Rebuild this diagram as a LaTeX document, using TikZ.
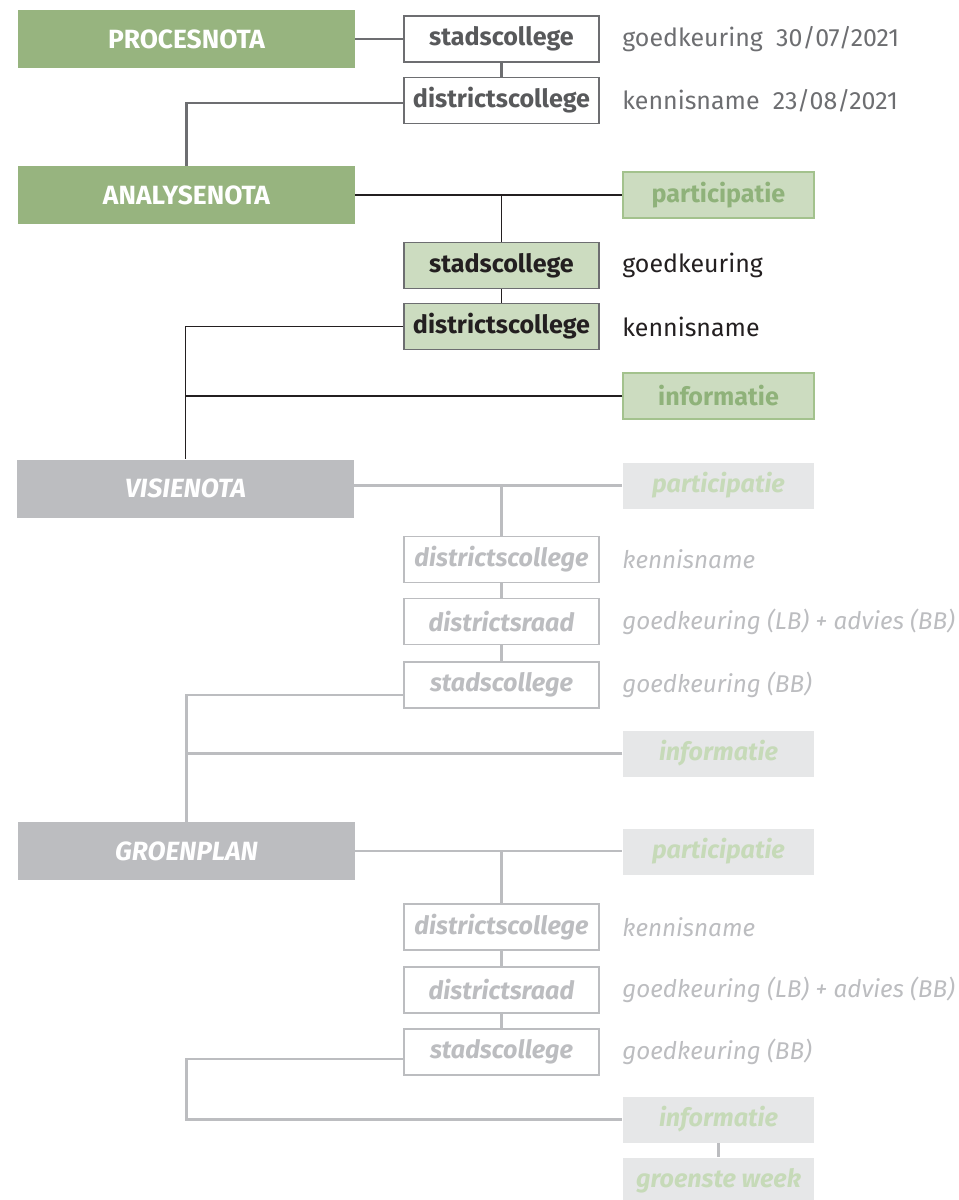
\documentclass[tikz,border=0pt]{standalone}
\usepackage{fontspec}
\setmainfont{Fira Sans}
\definecolor{groen}{HTML}{97B47F}
\definecolor{lichtgroen}{HTML}{CCDCC0}
\definecolor{groenrand}{HTML}{A3C28D}
\definecolor{groentekst}{HTML}{8FB27A}
\definecolor{donkergrijs}{HTML}{6D6E71}
\definecolor{tekstgrijs}{HTML}{58595B}
\definecolor{zwart}{HTML}{231F20}
\definecolor{grijs}{HTML}{BCBDC0}
\definecolor{lichtgrijs}{HTML}{E6E7E8}
\definecolor{vaaggroen}{HTML}{C6DAB8}
\tikzset{
  nota/.style={rectangle, minimum width=6.74cm, minimum height=1.16cm, inner sep=0pt,
    fill=groen, text=white, font=\bfseries\fontsize{15}{17}\selectfont},
  notagrijs/.style={nota, fill=grijs, font=\bfseries\itshape\fontsize{15}{17}\selectfont},
  orgaan/.style={rectangle, minimum width=3.9cm, minimum height=0.92cm, inner sep=0pt,
    draw=donkergrijs, line width=0.8pt, fill=white, text=tekstgrijs,
    font=\bfseries\fontsize{14.3}{16}\selectfont},
  orgaanactief/.style={orgaan, fill=lichtgroen, text=zwart},
  orgaangrijs/.style={orgaan, draw=grijs, line width=1.1pt, text=grijs,
    font=\bfseries\itshape\fontsize{14.3}{16}\selectfont},
  extra/.style={rectangle, minimum width=3.82cm, minimum height=0.92cm, inner sep=0pt,
    fill=lichtgroen, draw=groenrand, line width=0.8pt, text=groentekst,
    font=\bfseries\fontsize{14.3}{16}\selectfont},
  extragrijs/.style={extra, fill=lichtgrijs, draw=none, text=vaaggroen,
    font=\bfseries\itshape\fontsize{14.3}{16}\selectfont},
  uitleg/.style={anchor=west, inner sep=0pt, text=donkergrijs, font=\fontsize{14.2}{16}\selectfont},
  uitleggrijs/.style={uitleg, text=grijs, font=\itshape\fontsize{13.8}{16}\selectfont},
  lijn1/.style={draw=donkergrijs, line width=1.3pt},
  lijn2/.style={draw=zwart, line width=1.1pt},
  lijn3/.style={draw=grijs, line width=1.5pt}
}
\begin{document}
\begin{tikzpicture}[x=0.02cm, y=-0.02cm]
\useasboundingbox (0,0) rectangle (959,1200);

% procesnota
\node[nota] (procesnota) at (186.5,39) {PROCESNOTA};
\node[orgaan] (sc1) at (501.5,39) {stadscollege};
\node[orgaan] (dc1) at (501.5,100.5) {districtscollege};
\node[uitleg] (u1) at (622,39) {goedkeuring\ \ 30/07/2021};
\node[uitleg] (u2) at (622,100.5) {kennisname\ \ 23/08/2021};

% analysenota
\node[nota] (analysenota) at (186.5,195) {ANALYSENOTA};
\node[extra] (part1) at (718.5,195) {participatie};
\node[orgaanactief] (sc2) at (501.5,265.5) {stadscollege};
\node[orgaanactief] (dc2) at (501.5,326.5) {districtscollege};
\node[uitleg, text=zwart] (u3) at (622,265.5) {goedkeuring};
\node[uitleg, text=zwart] (u4) at (622,326.5) {kennisname};
\node[extra] (info1) at (718.5,396) {informatie};

% visienota
\node[notagrijs] (visienota) at (185.5,488.5) {VISIENOTA};
\node[extragrijs] (part2) at (718.5,485.5) {participatie};
\node[orgaangrijs] (dc3) at (501.5,559.5) {districtscollege};
\node[orgaangrijs] (dr1) at (501.5,621.5) {districtsraad};
\node[orgaangrijs] (sc3) at (501.5,685) {stadscollege};
\node[uitleggrijs] (u5) at (622,559.5) {kennisname};
\node[uitleggrijs] (u6) at (622,621.5) {goedkeuring (LB) + advies (BB)};
\node[uitleggrijs] (u7) at (622,685) {goedkeuring (BB)};
\node[extragrijs] (info2) at (718.5,753.5) {informatie};

% groenplan
\node[notagrijs] (groenplan) at (186.5,851) {GROENPLAN};
\node[extragrijs] (part3) at (718.5,851.5) {participatie};
\node[orgaangrijs] (dc4) at (501.5,927) {districtscollege};
\node[orgaangrijs] (dr2) at (501.5,990) {districtsraad};
\node[orgaangrijs] (sc4) at (501.5,1052) {stadscollege};
\node[uitleggrijs] (u8) at (622,927) {kennisname};
\node[uitleggrijs] (u9) at (622,990) {goedkeuring (LB) + advies (BB)};
\node[uitleggrijs] (u10) at (622,1052) {goedkeuring (BB)};
\node[extragrijs] (info3) at (718.5,1119.5) {informatie};
\node[extragrijs] (week) at (718.5,1181) {groenste week};

\path[lijn1] (procesnota.east) -- (sc1.west);
\path[lijn1] (sc1.south) -- (dc1.north);
\path[lijn1] ([yshift=-0.05cm]dc1.west) -| (analysenota.north);

\path[lijn2] (analysenota.east) -- (part1.west);
\path[lijn2] (sc2.north |- analysenota.east) -- (sc2.north);
\path[lijn2] (sc2.south) -- (dc2.north);
\path[lijn2] (dc2.west) -| (visienota.north);
\path[lijn2] (info1.west) -- (info1.west -| visienota.north);

\path[lijn3] (visienota.east |- part2.west) -- (part2.west);
\path[lijn3] (dc3.north |- part2.west) -- (dc3.north);
\path[lijn3] (dc3.south) -- (dr1.north);
\path[lijn3] (dr1.south) -- (sc3.north);
\path[lijn3] ([yshift=-0.2cm]sc3.west) -| (groenplan.north);
\path[lijn3] (info2.west) -- (info2.west -| groenplan.north);

\path[lijn3] (groenplan.east) -- (groenplan.east -| part3.west);
\path[lijn3] (dc4.north |- groenplan.east) -- (dc4.north);
\path[lijn3] (dc4.south) -- (dr2.north);
\path[lijn3] (dr2.south) -- (sc4.north);
\path[lijn3] ([yshift=-0.14cm]sc4.west) -| (groenplan.south |- info3.west) -- (info3.west);
\path[lijn3] (info3.south) -- (week.north);
\end{tikzpicture}
\end{document}
